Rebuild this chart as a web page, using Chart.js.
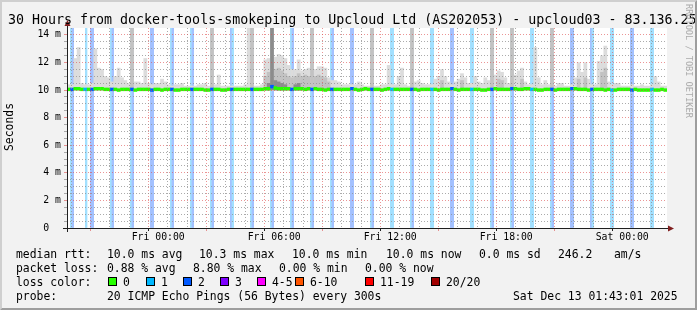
<!DOCTYPE html>
<html>
<head>
<meta charset="utf-8">
<script src="https://cdn.jsdelivr.net/npm/chart.js@4.4.1/dist/chart.umd.min.js"></script>
<style>
  html, body { margin: 0; padding: 0; background: #f2f2f2; }
  canvas { display: block; }
</style>
</head>
<body>
<canvas id="chart-canvas" width="697" height="310"></canvas>
<script>
// ---- data ----
const title = '30 Hours from docker-tools-smokeping to Upcloud Ltd (AS202053) - upcloud03 - 83.136.25';
const yTitle = 'Seconds';
const yMax = 14.5; // ms at the top of the plot

// x axis: minutes since the start of the graph (Thu 19:48)
const xTickMinutes = [252, 612, 972, 1332, 1692];
const xTickLabels = ['Fri 00:00', 'Fri 06:00', 'Fri 12:00', 'Fri 18:00', 'Sat 00:00'];

// 5 minute steps that lost pings, and how many
const lossSteps = [2, 3, 11, 14, 15, 26, 27, 38, 39, 50, 51, 62, 63, 74, 75, 86, 87, 98, 99,
  110, 111, 122, 123, 134, 135, 146, 147, 158, 159, 170, 171, 182, 183, 194, 195, 206, 207,
  218, 219, 230, 231, 242, 243, 254, 255, 266, 267, 278, 279, 290, 291, 302, 303, 314, 315,
  326, 327, 338, 339, 350, 351];
const lossCounts = [1, 2, 1, 2, 2, 1, 2, 1, 2, 2, 2, 1, 2, 1, 2, 1, 2, 2, 1,
  1, 2, 1, 2, 1, 2, 1, 2, 1, 2, 2, 2, 1, 2, 1, 1, 1, 2,
  1, 1, 2, 2, 1, 1, 1, 2, 1, 2, 1, 1, 1, 2, 2, 2, 2, 1,
  1, 1, 2, 2, 1, 1];

// 10 minute slots: median rtt (ms)
const median = [
  10.05, 10.05, 10.1, 10.1, 10.05, 10.05,
  10.05, 10.05, 10.1, 10.1, 10.1, 10.05,
  10.05, 10.05, 10.05, 10.0, 10.05, 10.05,
  10.05, 10.05, 10.0, 10.05, 10.05, 10.05,
  10.05, 10.0, 10.05, 10.05, 10.0, 10.05,
  10.05, 10.05, 10.0, 10.0, 10.05, 10.05,
  10.05, 10.05, 10.05, 10.05, 10.05, 10.0,
  10.0, 10.05, 10.05, 10.05, 10.0, 10.0,
  10.05, 10.05, 10.05, 10.05, 10.05, 10.05,
  10.05, 10.05, 10.05, 10.05, 10.05, 10.1,
  10.1, 10.25, 10.15, 10.1, 10.1, 10.1,
  10.1, 10.05, 10.1, 10.1, 10.1, 10.05,
  10.1, 10.05, 10.1, 10.05, 10.05, 10.0,
  10.05, 10.05, 10.05, 10.05, 10.05, 10.05,
  10.05, 10.1, 10.05, 10.0, 10.05, 10.1,
  10.05, 10.05, 10.05, 10.05, 10.0, 10.05,
  10.1, 10.05, 10.05, 10.05, 10.05, 10.05,
  10.05, 10.05, 10.05, 10.0, 10.05, 10.05,
  10.05, 10.05, 10.05, 10.0, 10.05, 10.05,
  10.05, 10.1, 10.05, 10.0, 10.05, 10.05,
  10.05, 10.05, 10.05, 10.05, 10.0, 10.0,
  10.05, 10.05, 10.1, 10.05, 10.05, 10.05,
  10.05, 10.1, 10.1, 10.05, 10.05, 10.1,
  10.1, 10.05, 10.05, 10.0, 10.0, 10.05,
  10.05, 10.05, 10.0, 10.05, 10.05, 10.05,
  10.05, 10.1, 10.1, 10.05, 10.05, 10.05,
  10.0, 10.05, 10.05, 10.05, 10.05, 10.0,
  10.05, 10.0, 10.0, 10.05, 10.05, 10.05,
  10.05, 10.0, 10.05, 10.0, 10.0, 10.0,
  10.0, 10.05, 10.0, 10.0, 10.05, 10.0
];

// 10 minute slots: top of the smoke (slowest ping, ms)
const smokeMax = [
  10.4, 10.4, 12.3, 13.1, 10.5, 10.4,
  10.4, 10.5, 13.0, 11.6, 11.5, 11.0,
  10.9, 10.6, 11.0, 11.6, 10.9, 10.7,
  10.5, 14.5, 10.6, 10.6, 10.5, 12.3,
  10.5, 10.4, 10.5, 10.5, 10.8, 10.6,
  10.4, 10.3, 10.4, 10.4, 10.5, 10.3,
  10.3, 10.3, 10.3, 10.4, 10.4, 10.5,
  10.3, 14.5, 10.4, 11.1, 10.3, 10.3,
  10.3, 10.3, 10.3, 10.3, 10.3, 10.4,
  14.5, 14.5, 10.3, 10.3, 10.4, 12.2,
  12.3, 14.5, 12.4, 12.6, 12.5, 12.3,
  11.8, 11.5, 11.5, 12.2, 11.4, 11.5,
  11.6, 14.5, 11.5, 11.7, 11.7, 11.6,
  10.9, 10.7, 10.7, 10.6, 10.4, 10.4,
  10.4, 10.4, 10.4, 10.6, 10.4, 10.3,
  10.3, 14.5, 10.3, 10.3, 10.4, 10.4,
  11.8, 10.4, 10.4, 11.0, 11.6, 10.4,
  10.3, 14.5, 10.6, 10.7, 10.5, 10.4,
  10.4, 10.4, 10.8, 11.0, 11.5, 11.0,
  10.6, 10.4, 10.6, 10.8, 11.2, 10.9,
  10.5, 10.5, 11.0, 10.6, 10.5, 10.9,
  10.7, 14.5, 11.1, 11.4, 11.3, 10.9,
  10.5, 14.5, 11.1, 11.4, 11.6, 10.6,
  10.4, 10.4, 13.1, 10.9, 10.4, 10.7,
  10.4, 14.5, 10.3, 10.5, 10.5, 10.3,
  10.3, 10.4, 10.9, 12.0, 11.3, 12.0,
  10.8, 10.4, 10.4, 12.1, 12.5, 13.2,
  10.6, 10.4, 10.5, 10.5, 10.3, 10.3,
  10.3, 10.4, 10.3, 10.3, 10.4, 10.3,
  10.3, 10.4, 11.0, 10.6, 10.3, 10.3
];

// denser smoke (slots and upper edge, ms)
const midSlots = [19, 43, 55, 59, 60, 62, 63, 64, 65, 66, 67, 68, 69, 70, 71, 72, 73, 74, 75, 76, 77, 78,
  91, 103, 112, 118, 127, 129, 130, 133, 136, 145, 153, 155, 160, 161];
const midValues = [14.5, 14.5, 14.5, 11.0, 11.3, 11.5, 11.6, 11.4, 11.2, 11.0, 10.9, 11.0, 11.2, 11.0, 11.1, 11.0, 14.5, 11.0, 11.1, 11.0, 10.9, 10.6,
  14.5, 14.5, 10.7, 10.7, 14.5, 10.8, 10.7, 14.5, 10.8, 14.5, 10.8, 10.9, 11.3, 11.6];
const darkSlots = [60, 61, 62, 63, 64, 65, 68, 69];
const darkValues = [10.5, 14.5, 10.7, 10.6, 10.5, 10.4, 10.4, 10.5];

// legend texts
const medianStats = ['10.0 ms avg', '10.3 ms max', '10.0 ms min', '10.0 ms now', '0.0 ms sd', '246.2', 'am/s'];
const lossStats = ['0.88 % avg', '8.80 % max', '0.00 % min', '0.00 % now'];
const lossLegend = ['0', '1', '2', '3', '4-5', '6-10', '11-19', '20/20'];
const probeText = '20 ICMP Echo Pings (56 Bytes) every 300s';
const stampText = 'Sat Dec 13 01:43:01 2025';
const watermark = 'RRDTOOL / TOBI OETIKER';

// ---- styles ----
const MONO = '"DejaVu Sans Mono"';
const lossPalette = ['#26ff00', '#00b8ff', '#0059ff', '#7e00ff', '#ff00ff', '#ff5500', '#ff0000', '#a10000'];
const lossBg = [null, '#a2e0ff', '#a3c1ff'];
const GRID = 'rgba(143,143,143,0.75)';
const MGRID = 'rgba(222,79,79,0.6)';

// ---- build series for the scales ----
const steps = [];
for (let i = 0; i < 360; i++) steps.push(i);
const slots = [];
for (let i = 0; i < 180; i++) slots.push(i);
const hourMarks = [];
for (let m = 12; m < 1800; m += 60) hourMarks.push(m);
const yMarks = [];
for (let v = 0; v <= yMax; v += 0.5) yMarks.push(v);

const stepLoss = steps.map(() => 0);
lossSteps.forEach((s, i) => { stepLoss[s] = lossCounts[i]; });
const slotLoss = slots.map(j => Math.max(stepLoss[2 * j], stepLoss[2 * j + 1]));

const lossData = stepLoss.map(c => c ? [0, yMax] : null);
const lightData = smokeMax.map(v => [9.95, v]);
const midData = slots.map(() => null);
midSlots.forEach((s, i) => { midData[s] = [10.0, midValues[i]]; });
const darkData = slots.map(() => null);
darkSlots.forEach((s, i) => { darkData[s] = [10.0, darkValues[i]]; });
const medianData = median.map(m => [m - 0.11, m + 0.11]);

const barBase = { grouped: false, barPercentage: 1, categoryPercentage: 1, borderWidth: 0, inflateAmount: 0.2, yAxisID: 'y' };

const frame = {
  id: 'frame',
  beforeDraw(chart) {
    const { ctx, chartArea: a } = chart;
    ctx.save();
    ctx.fillStyle = '#f2f2f2';
    ctx.fillRect(0, 0, chart.width, chart.height);
    ctx.fillStyle = '#ffffff';
    ctx.fillRect(a.left, a.top, a.right - a.left, a.bottom - a.top);
    ctx.restore();
  },
  afterDraw(chart) {
    const { ctx, chartArea: a } = chart;
    const W = chart.width, H = chart.height;
    ctx.save();

    // axes with arrows
    ctx.strokeStyle = '#1f1f1f';
    ctx.lineWidth = 1;
    ctx.beginPath();
    ctx.moveTo(a.left - 4, a.bottom + 0.5);
    ctx.lineTo(a.right + 2, a.bottom + 0.5);
    ctx.moveTo(a.left + 0.5, a.bottom + 4);
    ctx.lineTo(a.left + 0.5, a.top - 3);
    ctx.stroke();
    ctx.fillStyle = '#801f1f';
    ctx.beginPath();
    ctx.moveTo(a.right + 1, a.bottom - 2.5);
    ctx.lineTo(a.right + 7, a.bottom + 0.5);
    ctx.lineTo(a.right + 1, a.bottom + 3.5);
    ctx.closePath();
    ctx.fill();
    ctx.beginPath();
    ctx.moveTo(a.left - 2.5, a.top - 2);
    ctx.lineTo(a.left + 0.5, a.top - 8);
    ctx.lineTo(a.left + 3.5, a.top - 2);
    ctx.closePath();
    ctx.fill();

    // title
    ctx.fillStyle = '#000';
    ctx.textBaseline = 'alphabetic';
    ctx.textAlign = 'left';
    ctx.font = '13.3px ' + MONO;
    ctx.fillText(title, 8, 24);

    // y title
    ctx.save();
    ctx.translate(10.5, 127);
    ctx.rotate(-Math.PI / 2);
    ctx.font = '11.4px ' + MONO;
    ctx.textAlign = 'center';
    ctx.textBaseline = 'middle';
    ctx.fillText(yTitle, 0, 0);
    ctx.restore();

    // legend
    ctx.font = '11.4px ' + MONO;
    const medX = [107, 199, 292, 386, 479, 558, 614];
    ctx.fillText('median rtt:', 16, 258);
    medianStats.forEach((t, i) => ctx.fillText(t, medX[i], 258));
    const lossX = [107, 193, 279, 365];
    ctx.fillText('packet loss:', 16, 272);
    lossStats.forEach((t, i) => ctx.fillText(t, lossX[i], 272));
    ctx.fillText('loss color:', 16, 286);
    const boxX = [108, 146, 183, 220, 257, 295, 365, 431];
    lossLegend.forEach((t, i) => {
      ctx.fillStyle = lossPalette[i];
      ctx.fillRect(boxX[i], 278, 8, 8);
      ctx.strokeStyle = '#000';
      ctx.strokeRect(boxX[i] + 0.5, 277.5, 8, 8);
      ctx.fillStyle = '#000';
      ctx.fillText(t, boxX[i] + 15, 286);
    });
    ctx.fillText('probe:', 16, 300);
    ctx.fillText(probeText, 107, 300);
    ctx.fillText(stampText, 513, 300);

    // watermark
    ctx.save();
    ctx.translate(W - 9, 4);
    ctx.rotate(Math.PI / 2);
    ctx.font = '8.6px ' + MONO;
    ctx.fillStyle = '#ababab';
    ctx.textAlign = 'left';
    ctx.textBaseline = 'middle';
    ctx.fillText(watermark, 0, 0);
    ctx.restore();

    // 3d frame
    ctx.fillStyle = '#cfcfcf';
    ctx.beginPath();
    ctx.moveTo(0, 0); ctx.lineTo(W, 0); ctx.lineTo(W - 2, 2); ctx.lineTo(2, 2); ctx.lineTo(2, H - 2); ctx.lineTo(0, H);
    ctx.closePath();
    ctx.fill();
    ctx.fillStyle = '#9e9e9e';
    ctx.beginPath();
    ctx.moveTo(0, H); ctx.lineTo(W, H); ctx.lineTo(W, 0); ctx.lineTo(W - 2, 2); ctx.lineTo(W - 2, H - 2); ctx.lineTo(2, H - 2);
    ctx.closePath();
    ctx.fill();
    ctx.restore();
  }
};

const ctx = document.getElementById('chart-canvas').getContext('2d');
new Chart(ctx, {
  type: 'bar',
  data: {
    datasets: [
      Object.assign({}, barBase, {
        label: 'median', data: medianData, xAxisID: 'xs', order: 0,
        backgroundColor: c => lossPalette[slotLoss[c.dataIndex]]
      }),
      Object.assign({}, barBase, { label: 'dark smoke', data: darkData, xAxisID: 'xs', order: 1, backgroundColor: '#8c8c8c' }),
      Object.assign({}, barBase, { label: 'smoke', data: midData, xAxisID: 'xs', order: 2, backgroundColor: '#c2c2c2' }),
      Object.assign({}, barBase, { label: 'light smoke', data: lightData, xAxisID: 'xs', order: 3, backgroundColor: '#dcdcdc' }),
      Object.assign({}, barBase, {
        label: 'loss', data: lossData, xAxisID: 'x', order: 4, inflateAmount: 0.35,
        backgroundColor: c => lossBg[stepLoss[c.dataIndex]] || 'rgba(0,0,0,0)'
      })
    ]
  },
  options: {
    responsive: false,
    animation: false,
    devicePixelRatio: 1,
    layout: { padding: { top: 28, right: 30, left: 0, bottom: 0 } },
    plugins: { legend: { display: false }, tooltip: { enabled: false }, title: { display: false } },
    scales: {
      x: { type: 'category', labels: steps, display: false, offset: true },
      xs: { type: 'category', labels: slots, display: false, offset: true },
      xt: {
        type: 'linear', position: 'bottom', min: 0, max: 1800,
        afterBuildTicks: s => { s.ticks = hourMarks.map(v => ({ value: v })); },
        afterFit: s => { s.height = 82; },
        ticks: {
          autoSkip: false, maxRotation: 0, padding: 1, color: '#000',
          font: { family: 'DejaVu Sans Mono', size: 9.8 },
          callback: v => {
            const i = xTickMinutes.indexOf(v);
            return i >= 0 ? xTickLabels[i] : '';
          }
        },
        grid: {
          z: 1, lineWidth: 1, tickLength: 3,
          color: c => (c.tick && (c.tick.value - 72) % 180 === 0) ? MGRID : GRID,
          tickColor: c => {
            if (!c.tick) return 'rgba(0,0,0,0)';
            if (xTickMinutes.indexOf(c.tick.value) >= 0) return '#1f1f1f';
            return (c.tick.value - 72) % 180 === 0 ? MGRID : 'rgba(0,0,0,0)';
          }
        },
        border: { display: false, dash: [1, 2] }
      },
      y: {
        type: 'linear', position: 'left', min: 0, max: yMax,
        afterBuildTicks: s => { s.ticks = yMarks.map(v => ({ value: v })); },
        afterFit: s => { s.width = 67; },
        ticks: {
          autoSkip: false, padding: 3, color: '#000',
          font: { family: 'DejaVu Sans Mono', size: 9.8 },
          callback: v => (v % 2 === 0) ? (v === 0 ? '0  ' : v + ' m') : ''
        },
        grid: {
          z: 1, lineWidth: 1, tickLength: 3,
          color: c => {
            if (!c.tick) return 'rgba(0,0,0,0)';
            const v = c.tick.value;
            if (v === 0 || v === yMax) return 'rgba(0,0,0,0)';
            return v % 2 === 0 ? MGRID : GRID;
          },
          tickColor: c => {
            if (!c.tick) return 'rgba(0,0,0,0)';
            const v = c.tick.value;
            if (v === yMax) return 'rgba(0,0,0,0)';
            return v % 2 === 0 ? MGRID : GRID;
          }
        },
        border: { display: false, dash: [1, 2] }
      }
    }
  },
  plugins: [frame]
});
</script>
</body>
</html>
